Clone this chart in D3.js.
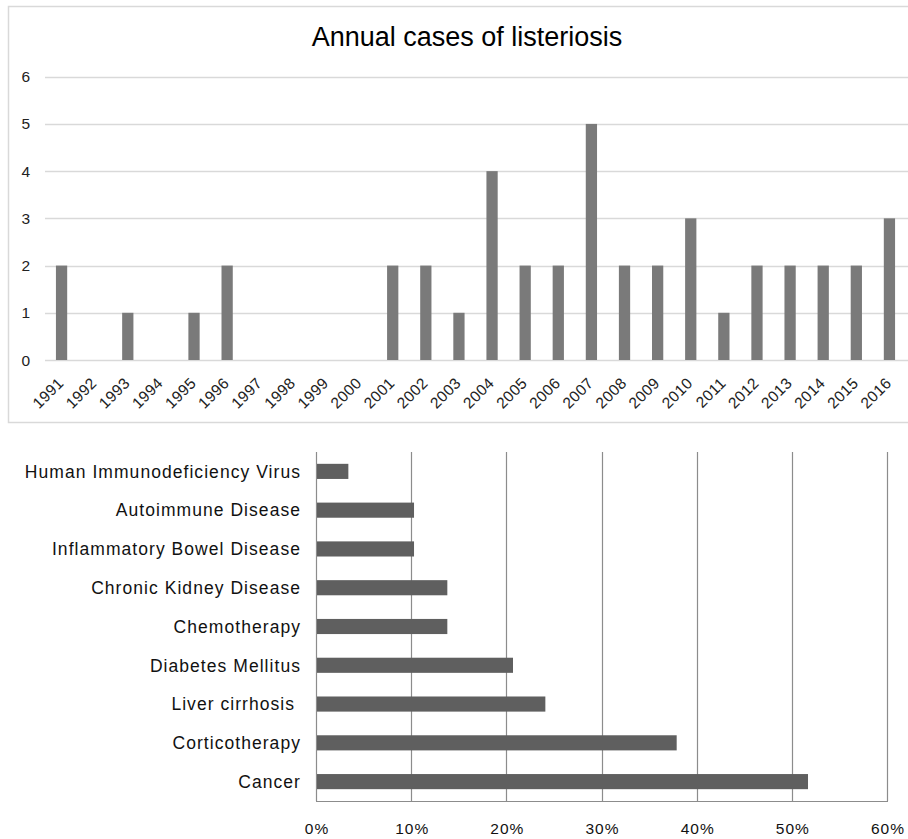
<!DOCTYPE html>
<html>
<head>
<meta charset="utf-8">
<script src="https://cdn.jsdelivr.net/npm/d3@7/dist/d3.min.js"></script>
<style>
  html, body { margin: 0; padding: 0; background: #fff; }
  svg { display: block; font-family: "Liberation Sans", Arial, sans-serif; }
</style>
</head>
<body>
<svg id="chart" width="908" height="839"></svg>
<script>
// Annual cases of listeriosis, 1991-2016
const years = d3.range(1991, 2017).map(String);
const cases = [2, 0, 1, 0, 1, 2, 0, 0, 0, 0, 2, 2, 1, 4, 2, 2, 5, 2, 2, 3, 1, 2, 2, 2, 2, 3];
const caseTicks = [0, 1, 2, 3, 4, 5, 6];

// Underlying conditions, share of patients
const conditions = [
  "Human Immunodeficiency Virus",
  "Autoimmune Disease",
  "Inflammatory Bowel Disease",
  "Chronic Kidney Disease",
  "Chemotherapy",
  "Diabetes Mellitus",
  "Liver cirrhosis ",
  "Corticotherapy",
  "Cancer"
];
const shares = [3.4, 10.3, 10.3, 13.8, 13.8, 20.7, 24.1, 37.9, 51.7];
const shareTicks = [0, 10, 20, 30, 40, 50, 60];

const svg = d3.select("#chart");

// ---------- Top panel: column chart ----------
const casesPanel = svg.append("g");

casesPanel.append("rect")
  .attr("x", 8.5).attr("y", 6.5)
  .attr("width", 920).attr("height", 416)
  .attr("fill", "none")
  .attr("stroke", "#d9d9d9")
  .attr("stroke-width", 1.5);

casesPanel.append("text")
  .attr("x", 467).attr("y", 46)
  .attr("text-anchor", "middle")
  .attr("font-size", 27)
  .attr("fill", "#000")
  .text("Annual cases of listeriosis");

const x1 = d3.scaleBand().domain(years).range([45, 906]).paddingInner(0.66).paddingOuter(0.33);
const y1 = d3.scaleLinear().domain([0, 6]).range([360, 76.7]);

casesPanel.append("g")
  .selectAll("line")
  .data(caseTicks)
  .join("line")
  .attr("x1", 45).attr("x2", 908)
  .attr("y1", d => Math.round(y1(d)) + 0.5)
  .attr("y2", d => Math.round(y1(d)) + 0.5)
  .attr("stroke", "#d9d9d9")
  .attr("stroke-width", 1.3);

casesPanel.append("g")
  .selectAll("text")
  .data(caseTicks)
  .join("text")
  .attr("x", 30)
  .attr("y", d => y1(d))
  .attr("dy", "0.36em")
  .attr("text-anchor", "end")
  .attr("font-size", 15.5)
  .attr("fill", "#222")
  .text(d => d);

casesPanel.append("g")
  .selectAll("rect")
  .data(years.map((yr, i) => ({ yr, v: cases[i] })).filter(d => d.v > 0))
  .join("rect")
  .attr("x", d => x1(d.yr))
  .attr("y", d => y1(d.v))
  .attr("width", x1.bandwidth())
  .attr("height", d => y1(0) - y1(d.v))
  .attr("fill", "#7a7a7a");

casesPanel.append("g")
  .selectAll("text")
  .data(years)
  .join("text")
  .attr("text-anchor", "end")
  .attr("font-size", 15.5)
  .attr("letter-spacing", 0.4)
  .attr("fill", "#222")
  .attr("transform", d => `translate(${x1(d) + x1.bandwidth() / 2 + 3},${384}) rotate(-45)`)
  .text(d => d);

// ---------- Bottom panel: horizontal bar chart ----------
const riskPanel = svg.append("g");

const x2 = d3.scaleLinear().domain([0, 60]).range([316, 887]);
const y2 = d3.scaleBand().domain(conditions).range([452, 801]).paddingInner(0.61).paddingOuter(0.305);

riskPanel.append("g")
  .selectAll("line")
  .data(shareTicks)
  .join("line")
  .attr("x1", d => Math.round(x2(d)) + 0.5)
  .attr("x2", d => Math.round(x2(d)) + 0.5)
  .attr("y1", 452).attr("y2", 801)
  .attr("stroke", "#8c8c8c")
  .attr("stroke-width", 1.2);

riskPanel.append("line")
  .attr("x1", x2(0)).attr("x2", x2(60) + 1)
  .attr("y1", 801.5).attr("y2", 801.5)
  .attr("stroke", "#8c8c8c")
  .attr("stroke-width", 1.2);

riskPanel.append("g")
  .selectAll("rect")
  .data(conditions.map((c, i) => ({ c, v: shares[i] })))
  .join("rect")
  .attr("x", x2(0) + 1)
  .attr("y", d => y2(d.c))
  .attr("width", d => x2(d.v) - x2(0) - 1)
  .attr("height", y2.bandwidth())
  .attr("fill", "#5f5f5f");

riskPanel.append("g")
  .selectAll("text")
  .data(conditions)
  .join("text")
  .attr("x", 301)
  .attr("y", d => y2(d) + y2.bandwidth() / 2)
  .attr("dy", "0.36em")
  .attr("text-anchor", "end")
  .attr("font-size", 17.5)
  .attr("letter-spacing", 1.05)
  .attr("fill", "#111")
  .style("white-space", "pre")
  .text(d => d);

riskPanel.append("g")
  .selectAll("text")
  .data(shareTicks)
  .join("text")
  .attr("x", d => x2(d) + 1)
  .attr("y", 828)
  .attr("dy", "0.36em")
  .attr("text-anchor", "middle")
  .attr("font-size", 15.5)
  .attr("letter-spacing", 1)
  .attr("fill", "#111")
  .text(d => d + "%");
</script>
</body>
</html>
